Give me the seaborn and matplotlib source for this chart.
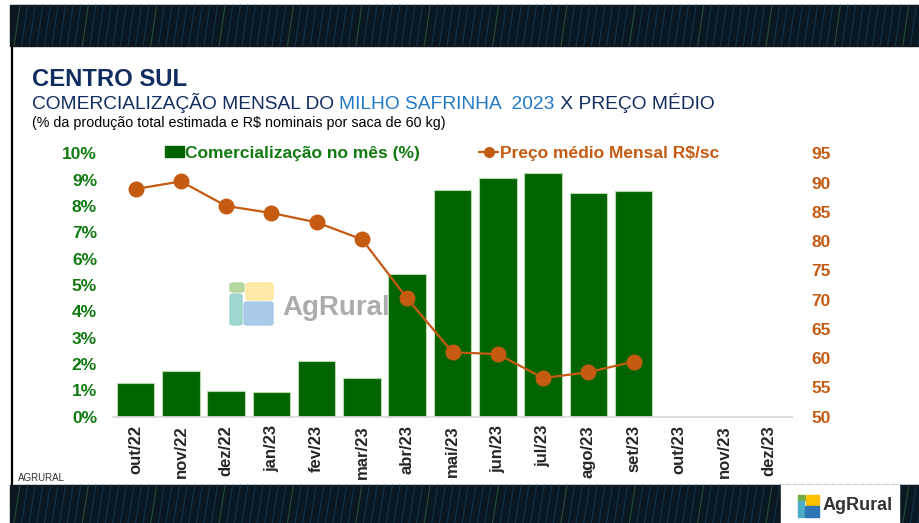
import numpy as np
import pandas as pd
import seaborn as sns
import matplotlib.pyplot as plt
from matplotlib.patches import Rectangle, FancyBboxPatch
from matplotlib.lines import Line2D

# data
months = ['out/22', 'nov/22', 'dez/22', 'jan/23', 'fev/23', 'mar/23', 'abr/23',
          'mai/23', 'jun/23', 'jul/23', 'ago/23', 'set/23', 'out/23', 'nov/23', 'dez/23']
comercializacao = [1.28, 1.75, 0.99, 0.92, 2.10, 1.46, 5.43, 8.60, 9.06, 9.27, 8.50, 8.55]
preco = [88.9, 90.2, 86.0, 84.8, 83.2, 80.3, 70.2, 61.0, 60.7, 56.6, 57.6, 59.4]
pct_ticks = list(range(0, 11))
price_ticks = list(range(50, 100, 5))

GREEN = '#006400'
TXT_GREEN = '#107A10'
ORANGE = '#C55A11'
NAVY = '#112C5E'
BLUE = '#2179C6'

sns.set_style('white')
plt.rcParams['font.family'] = ['Liberation Sans', 'DejaVu Sans']

df_bar = pd.DataFrame({'pos': [months.index(m) for m in months[:len(comercializacao)]],
                       'pct': comercializacao})
df_line = pd.DataFrame({'pos': [months.index(m) for m in months[:len(preco)]],
                        'preco': preco})

W, H = 920, 523
fig = plt.figure(figsize=(W / 100, H / 100), dpi=100)
fig.patch.set_facecolor('white')

# slide decoration: dark banners top and bottom
def banner(y0, y1):
    fig.add_artist(Rectangle((10 / W, 1 - y1 / H), 1 - 10 / W, (y1 - y0) / H,
                             transform=fig.transFigure, color='#0b1821', zorder=0))
    for i, xx in enumerate(np.linspace(14, 918, 120)):
        col = '#2a4a3a' if i % 9 == 0 else '#173247'
        fig.add_artist(Line2D([xx / W, (xx + 6) / W], [1 - y1 / H, 1 - y0 / H],
                              transform=fig.transFigure, color=col, lw=0.8, zorder=0))

banner(5, 46)
banner(485, 523)
fig.add_artist(Rectangle((781 / W, 0), 118 / W, 38 / H, transform=fig.transFigure,
                         color='white', zorder=1))
fig.add_artist(Line2D([12 / W, 12 / W], [1 - 485 / H, 1 - 46 / H], transform=fig.transFigure,
                      color='black', lw=1.6, zorder=1))

# main axes
ax = fig.add_axes([113 / W, 1 - 416.7 / H, (792 - 113) / W, (416.7 - 153.3) / H])
sns.barplot(data=df_bar, x='pos', y='pct', native_scale=True, color=GREEN, saturation=1,
            width=0.83, edgecolor='#B9D9AE', linewidth=0.8, ax=ax, zorder=2)
ax.set_xlim(-0.5, len(months) - 0.5)
ax.set_ylim(0, 10)
ax.set_yticks(pct_ticks, [f'{t}%' for t in pct_ticks])
ax.set_xticks(range(len(months)), months, rotation=90)
ax.set_xlabel('')
ax.set_ylabel('')
ax.tick_params(axis='y', length=0, pad=11.5, labelcolor=TXT_GREEN, labelsize=12.5)
ax.tick_params(axis='x', length=0, pad=6, labelsize=12)
for lab in ax.get_yticklabels() + ax.get_xticklabels():
    lab.set_fontweight('bold')
for s in ['top', 'left', 'right']:
    ax.spines[s].set_visible(False)
ax.spines['bottom'].set_color('#D9D9D9')
ax.spines['bottom'].set_linewidth(1.3)
ax.set_facecolor('none')

ax2 = ax.twinx()
sns.lineplot(data=df_line, x='pos', y='preco', color=ORANGE, marker='o', markersize=11.5,
             markeredgewidth=0, linewidth=1.6, sort=False, ax=ax2, zorder=3)
ax2.set_ylim(50, 95)
ax2.set_yticks(price_ticks)
ax2.set_ylabel('')
ax2.tick_params(axis='y', length=0, pad=14, labelcolor=ORANGE, labelsize=12.5)
for lab in ax2.get_yticklabels():
    lab.set_fontweight('bold')
for s in ax2.spines.values():
    s.set_visible(False)

# legend
handles = [Rectangle((0, 0), 1, 1, color=GREEN),
           Line2D([], [], color=ORANGE, marker='o', markersize=7, lw=1.6)]
leg = fig.legend(handles, ['Comercialização no mês (%)', 'Preço médio Mensal R$/sc'],
                 loc='center', bbox_to_anchor=(442 / W, 1 - 153 / H), ncol=2, frameon=False,
                 handlelength=1.1, handleheight=0.55, handletextpad=0.1, columnspacing=3.4,
                 prop={'weight': 'bold', 'size': 12.5})
for t, c in zip(leg.get_texts(), [TXT_GREEN, ORANGE]):
    t.set_color(c)

# watermark
ix, iy = 230, 283
for (dx, dy, w, h, c) in [(0, 0, 14, 9, '#A9D18E'), (16, 0, 27, 17, '#FFE699'),
                          (0, 11, 12, 31, '#8FD0C6'), (14, 19, 29, 23, '#9DC3E6')]:
    fig.add_artist(FancyBboxPatch(((ix + dx) / W, 1 - (iy + dy + h) / H), w / W, h / H,
                                  boxstyle='round,pad=0,rounding_size=0.004',
                                  transform=fig.transFigure, color=c, alpha=0.85, zorder=2.5))
fig.text(282 / W, 1 - 315 / H, 'AgRural', fontsize=20, fontweight='bold', color='#A3A3A3',
         alpha=0.9, va='baseline', zorder=2.5)

# titles
r = fig.canvas.get_renderer()

def width_px(s, **kw):
    t = fig.text(0, 0, s, **kw)
    w = t.get_window_extent(renderer=r).width
    t.remove()
    return w

fig.text(32 / W, 1 - 86 / H, 'CENTRO SUL', fontsize=17.2, fontweight='bold', color=NAVY,
         va='baseline')
runs = [('COMERCIALIZAÇÃO MENSAL DO ', NAVY), ('MILHO SAFRINHA  2023', BLUE),
        (' X PREÇO MÉDIO', NAVY)]
sub_kw = dict(fontsize=13.75)
prefix = ''
for s, c in runs:
    off = 0 if not prefix else width_px(prefix + 'H', **sub_kw) - width_px('H', **sub_kw)
    fig.text((32 + off) / W, 1 - 109 / H, s.lstrip() if not prefix else s, color=c,
             va='baseline', **sub_kw)
    prefix += s
fig.text(32 / W, 1 - 127 / H, '(% da produção total estimada e R$ nominais por saca de 60 kg)',
         fontsize=10.25, color='black', va='baseline')
fig.text(18 / W, 1 - 481 / H, 'AGRURAL', fontsize=7, color='#333333', va='baseline')

# corner logo
lx, ly = 798, 495
for (dx, dy, w, h, c) in [(0, 0, 7, 5, '#70AD47'), (8, 0, 13, 10, '#FFC000'),
                          (0, 6, 6, 16, '#4BACC6'), (7, 11, 14, 11, '#2E75B6')]:
    fig.add_artist(Rectangle(((lx + dx) / W, 1 - (ly + dy + h) / H), w / W, h / H,
                             transform=fig.transFigure, color=c, zorder=2))
fig.text(823 / W, 1 - 506 / H, 'AgRural', fontsize=13, fontweight='bold', color='#333333',
         va='center')

fig.savefig('out.png', dpi=100, facecolor='white')
